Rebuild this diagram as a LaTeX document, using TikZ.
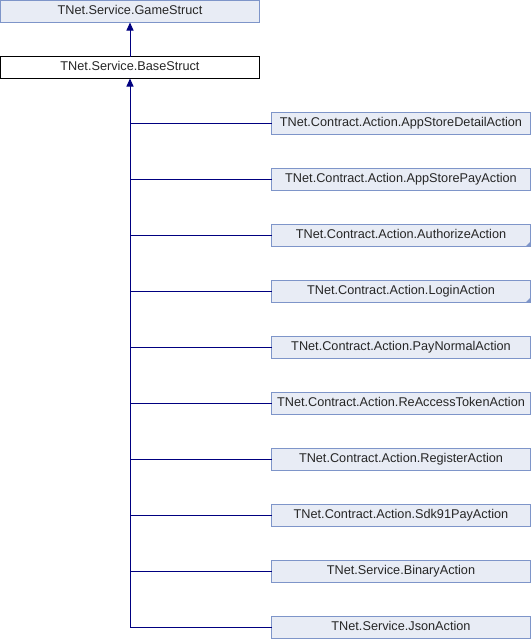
\documentclass[tikz,border=0pt]{standalone}
\usepackage{fontspec}
\setmainfont{Liberation Sans}
\usetikzlibrary{arrows.meta}
\definecolor{boxfill}{HTML}{E8ECF5}
\definecolor{boxdraw}{HTML}{7E95C9}
\definecolor{conncol}{HTML}{000080}
\tikzset{
  cls/.style={draw=boxdraw, fill=boxfill, line width=1pt, minimum width=259pt, minimum height=22pt,
    inner sep=0pt, outer sep=0pt, text height=9pt, text depth=2.6pt,
    font=\fontsize{12.7}{14}\selectfont, text=black!85},
  basecls/.style={cls, draw=black, fill=white},
  conn/.style={draw=conncol, line width=1pt},
  inh/.style={conn, -{Triangle[length=8pt,width=7pt]}},
  more/.style={fill=boxdraw}
}
\begin{document}
\begin{tikzpicture}[x=1pt,y=-1pt]
\useasboundingbox (0,0) rectangle (532,640);
\node[cls] (game) at (130,11.5) {TNet.Service.GameStruct};
\node[basecls] (base) at (130,67.5) {TNet.Service.BaseStruct};
\node[cls] (c1) at (401,123.5) {TNet.Contract.Action.AppStoreDetailAction};
\node[cls] (c2) at (401,179.5) {TNet.Contract.Action.AppStorePayAction};
\node[cls] (c3) at (401,235.5) {TNet.Contract.Action.AuthorizeAction};
\node[cls] (c4) at (401,291.5) {TNet.Contract.Action.LoginAction};
\node[cls] (c5) at (401,347.5) {TNet.Contract.Action.PayNormalAction};
\node[cls] (c6) at (401,403.5) {TNet.Contract.Action.ReAccessTokenAction};
\node[cls] (c7) at (401,459.5) {TNet.Contract.Action.RegisterAction};
\node[cls] (c8) at (401,515.5) {TNet.Contract.Action.Sdk91PayAction};
\node[cls] (c9) at (401,571.5) {TNet.Service.BinaryAction};
\node[cls] (c10) at (401,627.5) {TNet.Service.JsonAction};
\fill[more] (c3.south east) -- ++(0,-5) -- ++(-5,5) -- cycle;
\fill[more] (c4.south east) -- ++(0,-5) -- ++(-5,5) -- cycle;
\draw[inh] (base.north) -- (game.south);
\coordinate (trunk) at (base.south |- c10.west);
\foreach \c in {c1,c2,c3,c4,c5,c6,c7,c8,c9,c10}{
  \draw[conn] (\c.west) -| (trunk);
}
\draw[inh] (trunk) -- (base.south);
\end{tikzpicture}
\end{document}
